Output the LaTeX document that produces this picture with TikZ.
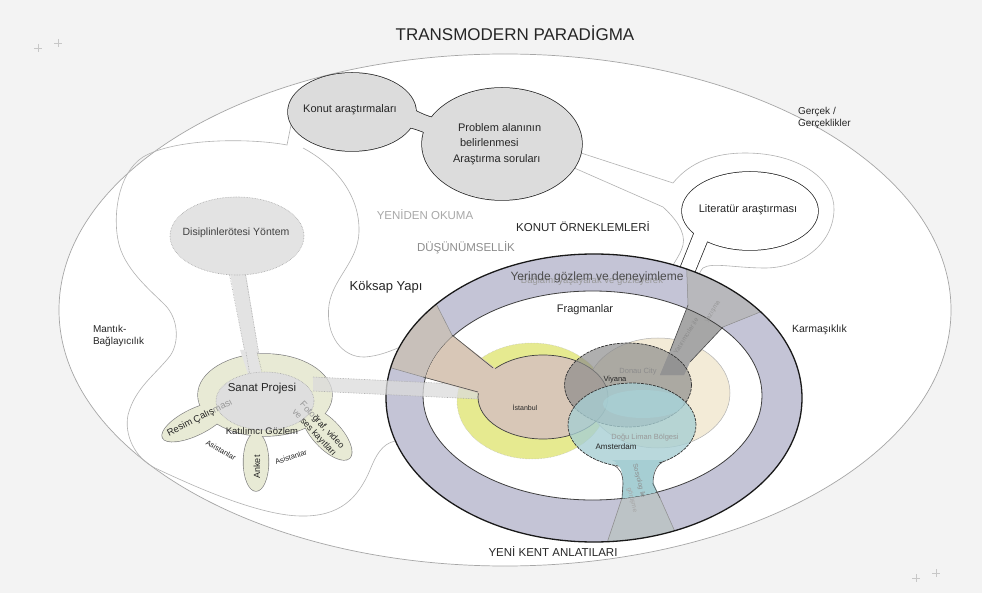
\documentclass[tikz,border=0pt]{standalone}
\usepackage{fontspec}
\setmainfont{Liberation Sans}
\definecolor{bgc}{HTML}{F3F3F3}
\definecolor{bub}{HTML}{DCDCDC}
\definecolor{disc}{HTML}{E3E3E3}
\definecolor{sanatc}{HTML}{E8EAD5}
\definecolor{sanin}{HTML}{DEDEDE}
\definecolor{ringc}{HTML}{C4C4D6}
\definecolor{tanc}{HTML}{D8C7B7}
\definecolor{tanring}{HTML}{C8C0BA}
\definecolor{grayring}{HTML}{B8B8BC}
\definecolor{tealring}{HTML}{BCC3C6}
\definecolor{graytail}{HTML}{A6A6A6}
\definecolor{tealc}{HTML}{A6CED3}
\definecolor{yelc}{HTML}{E6EA90}
\definecolor{beigec}{HTML}{F3EBD7}
\definecolor{vienc}{HTML}{8A8A8A}
\definecolor{lgtxt}{HTML}{A8A8A8}
\definecolor{hlc}{HTML}{A9D3D8}
\newcommand{\fsz}[2]{\fontsize{#1}{#2}\selectfont}
\newcommand{\ringout}{(594,398) ellipse [x radius=208pt, y radius=144pt]}
\newcommand{\ringin}{(592.5,395.5) ellipse [x radius=169.5pt, y radius=104.5pt]}
\newcommand{\tailA}{(424,280) -- (452,335) -- (497,370) -- (500,396) -- (478,393) -- (423,377) -- (360,359) -- cycle}
\newcommand{\tailB}{(686,250) -- (688,305) -- (670,351) -- (660,375) -- (684,375) -- (690,362) -- (723,327) -- (800,296) -- cycle}
\newcommand{\tailC}{(612,460) .. controls (620,463) and (623,470) .. (623,482) -- (622,498) -- (604,552) -- (684,552) -- (660,498) -- (653,482) .. controls (653,470) and (656,463) .. (664,460) -- cycle}
\newcommand{\neckpath}{(410,108) .. controls (418,112) and (425,116) .. (434,118) -- (428,134) .. controls (420,130) and (412,128) .. (405,126) -- cycle}
\newcommand{\littail}{(697,226) -- (711,232) -- (693,276) -- (677,276) -- cycle}
\begin{document}
\begin{tikzpicture}[x=1pt,y=-1pt,
  txt/.style={inner sep=0pt, outer sep=0pt, text=black!85},
  rline/.style={draw=black!30, line width=0.6pt},
  dotl/.style={draw=black!35, line width=0.6pt, densely dotted},
  tedge/.style={draw=black!70, line width=0.6pt},
  sedge/.style={draw=black!45, line width=0.5pt},
  cross/.style={draw=black!22, line width=0.5pt}]
\useasboundingbox (0,0) rectangle (982,593);
\fill[bgc] (0,0) rectangle (982,593);
\foreach \cx/\cy in {38/48, 58/43, 916/578, 936/573}
  \draw[cross] (\cx-4,\cy) -- (\cx+4,\cy) (\cx,\cy-4) -- (\cx,\cy+4);
% outer world
\draw[fill=white, draw=black!35, line width=0.7pt] (505,310) ellipse [x radius=446pt, y radius=256pt];
% thin region outlines
\draw[rline] (291,125) -- (287,145) .. controls (250,138) and (175,138) .. (143,157)
  .. controls (118,173) and (113,215) .. (118,240) .. controls (123,268) and (150,290) .. (165,305)
  .. controls (178,318) and (180,342) .. (170,356) .. controls (155,375) and (135,388) .. (128,415)
  .. controls (124,435) and (135,458) .. (155,468) .. controls (185,482) and (255,515) .. (300,516)
  .. controls (340,517) and (358,498) .. (370,470) .. controls (376,455) and (382,444) .. (395,441);
\draw[rline] (303,148) .. controls (335,165) and (360,195) .. (359,232) .. controls (358,262) and (333,278) .. (329,305)
  .. controls (325,335) and (342,358) .. (365,357) .. controls (378,356) and (388,352) .. (398,348);
\draw[rline] (578,152) -- (673,183) .. controls (690,162) and (715,153) .. (745,153)
  .. controls (800,153) and (835,180) .. (834,210) .. controls (833,245) and (800,268) .. (765,268)
  .. controls (735,268) and (712,262) .. (703,268) .. controls (698,273) and (697,282) .. (697,292);
\draw[rline] (572,167) -- (663,207) .. controls (675,218) and (686,232) .. (683,245)
  .. controls (680,257) and (671,265) .. (667,278);
% Konut + Problem bubbles
\draw[line width=1.5pt, draw=black!85] (352,112) ellipse [x radius=64pt, y radius=39pt];
\draw[line width=1.5pt, draw=black!85] (502,144) ellipse [x radius=80pt, y radius=56pt];
\draw[line width=1.5pt, draw=black!85] \neckpath;
\fill[bub] (352,112) ellipse [x radius=64pt, y radius=39pt];
\fill[bub] (502,144) ellipse [x radius=80pt, y radius=56pt];
\fill[bub] \neckpath;
% Literatur bubble
\draw[line width=1.5pt, draw=black!85] (750,211) ellipse [x radius=68pt, y radius=39pt];
\draw[line width=1.5pt, draw=black!85] (697,226) -- (677,276) (711,232) -- (693,276);
\fill[white] (750,211) ellipse [x radius=68pt, y radius=39pt];
\fill[white] \littail;
% Disiplinlerotesi bubble and band
\fill[disc] (229,268) -- (245,268) -- (263,380) -- (250,380) -- cycle;
\draw[dotl] (229,272) -- (250,378) (245,272) -- (263,378);
\draw[dotl, fill=disc] (237,236) ellipse [x radius=67pt, y radius=39pt];
% Sanat blob
\begin{scope}[line width=1.3pt, draw=black!50]
\draw (265,395) ellipse [x radius=67pt, y radius=41pt];
\draw (195,422) ellipse [x radius=36pt, y radius=13pt, rotate=26];
\draw (256,462) ellipse [x radius=12.5pt, y radius=29pt];
\draw (327,434) ellipse [x radius=33pt, y radius=14pt, rotate=-47];
\end{scope}
\fill[sanatc] (265,395) ellipse [x radius=67pt, y radius=41pt];
\fill[sanatc] (195,422) ellipse [x radius=36pt, y radius=13pt, rotate=26];
\fill[sanatc] (256,462) ellipse [x radius=12.5pt, y radius=29pt];
\fill[sanatc] (327,434) ellipse [x radius=33pt, y radius=14pt, rotate=-47];
\fill[disc] (240,350) -- (256,350) -- (263,380) -- (250,380) -- cycle;
\draw[dotl] (246,352) -- (250,376) (257,352) -- (263,376);
\draw[dotl, fill=sanin] (265,401) ellipse [x radius=49pt, y radius=29pt];
% ring
\fill[ringc, even odd rule] \ringout \ringin;
% central regions (back)
\draw[fill=yelc, draw=black!25, densely dotted, line width=0.5pt] (532,401) ellipse [x radius=75pt, y radius=58pt];
\draw[fill=beigec, draw=black!30, line width=0.5pt] (658,393) ellipse [x radius=72pt, y radius=55pt];
% tails
\begin{scope}
\clip \ringout;
\fill[tanring] \tailA; \fill[grayring] \tailB; \fill[tealring] \tailC;
\draw[sedge] (424,280) -- (452,335) (360,359) -- (423,377) (686,250) -- (688,305) (800,296) -- (723,327)
  (604,552) -- (622,498) (684,552) -- (660,498);
\end{scope}
\begin{scope}
\clip \ringin;
\fill[tanc] \tailA; \fill[graytail] \tailB; \fill[tealc] \tailC;
\end{scope}
% ring strokes
\draw[black!90, line width=1.3pt] \ringout;
\draw[black!75, line width=0.8pt] \ringin;
% band Sanat -> Istanbul
\fill[black!14, fill opacity=0.75] (313,377) -- (478,385) -- (478,399) -- (313,391) -- cycle;
\draw[dotl] (313,377) -- (478,385) (313,391) -- (478,399);
% Istanbul
\draw[fill=tanc, draw=black!75, line width=0.7pt] (543,397) ellipse [x radius=65pt, y radius=42pt];
\begin{scope}
\clip \ringin;
\fill[tanc] \tailA;
\end{scope}
\draw[tedge] (452,335) -- (493,368) (423,377) -- (478,392);
% Viyana, Amsterdam
\draw[fill=vienc, fill opacity=0.68, draw=black!80, dash pattern=on 3pt off 1pt, line width=0.7pt]
  (628,385) ellipse [x radius=63.5pt, y radius=42pt];
\draw[fill=tealc, fill opacity=0.78, draw=black!80, dash pattern=on 3pt off 1pt, line width=0.7pt]
  (632,425) ellipse [x radius=64pt, y radius=42pt];
\fill[hlc, fill opacity=0.6] (643,404) ellipse [x radius=40pt, y radius=14pt];
\begin{scope}
\clip \ringin;
\fill[tealc] (614,463) .. controls (620,465) and (623,470) .. (623,482) -- (622,510) -- (660,510) -- (653,482) .. controls (653,470) and (656,465) .. (662,463) -- cycle;
\end{scope}
\draw[tedge] (688,305) -- (670,351) (723,327) -- (690,362);
\draw[tedge] (613,465) .. controls (620,468) and (623,474) .. (623,484) -- (622,498);
\draw[tedge] (664,461) .. controls (657,465) and (653,472) .. (653,484) -- (660,498);
% ---------- texts ----------
\node[txt, font=\fsz{17}{20}] (title) at (515,33) {TRANSMODERN PARADİGMA};
\node[txt, font=\fsz{11}{13}] (konut) at (350,110) {Konut araştırmaları};
\node[txt, font=\fsz{11}{13}, anchor=west] (prob1) at (458,128) {Problem alanının};
\node[txt, font=\fsz{11}{13}, anchor=west] (prob2) at (460,143) {belirlenmesi};
\node[txt, font=\fsz{11}{13}, anchor=west] (prob3) at (453,160) {Araştırma soruları};
\node[txt, font=\fsz{11}{13}] (lit) at (748,210) {Literatür araştırması};
\node[txt, font=\fsz{10}{12}, anchor=west, align=left] (gercek) at (798,118) {Gerçek /\\Gerçeklikler};
\node[txt, font=\fsz{11.5}{13}, text=lgtxt] (yeniden) at (425,215) {YENİDEN OKUMA};
\node[txt, font=\fsz{11.5}{13}] (ornek) at (583,227) {KONUT ÖRNEKLEMLERİ};
\node[txt, font=\fsz{11.5}{13}, text=black!45] (dusun) at (466,248) {DÜŞÜNÜMSELLİK};
\node[txt, font=\fsz{13}{15}] (koksap) at (386,287) {Köksap Yapı};
\node[txt, font=\fsz{10.5}{12}, text=black!75] (disip) at (236,233) {Disiplinlerötesi Yöntem};
\node[txt, font=\fsz{10}{12.4}, anchor=west, align=left] (mantik) at (93,336) {Mantık-\\Bağlayıcılık};
\node[txt, font=\fsz{10.5}{12}, anchor=west] (karma) at (792,330) {Karmaşıklık};
\node[txt, font=\fsz{9.5}{11}, text=black!40] (baglam) at (592,281) {Bağlamı yaşayarak ve gözleyerek};
\node[txt, font=\fsz{12}{14}, text=black!70] (yerinde) at (597,277) {Yerinde gözlem ve deneyimleme};
\node[txt, font=\fsz{11}{13}] (frag) at (585,310) {Fragmanlar};
\node[txt, font=\fsz{11.5}{13}] (sanat) at (262,389) {Sanat Projesi};
\node[txt, font=\fsz{9.5}{11}] (katil) at (262,431) {Katılımcı Gözlem};
\node[txt, font=\fsz{9.5}{11}, rotate=27] (resim) at (200,418) {Resim Çalış\textcolor{black!40}{ması}};
\node[txt, font=\fsz{7.5}{9}, rotate=-30] (asis1) at (221,450) {Asistanlar};
\node[txt, font=\fsz{9}{11}, rotate=90] (anket) at (257,467) {Anket};
\node[txt, font=\fsz{7.5}{9}, rotate=18] (asis2) at (291,457) {Asistanlar};
\node[txt, font=\fsz{9}{10.8}, rotate=-47, align=center] (foto) at (318,429) {\textcolor{black!40}{Foto}ğraf, video\\\textcolor{black!40}{ve} ses kayıtları};
\node[txt, font=\fsz{7}{8}] (ist) at (525,407) {İstanbul};
\node[txt, font=\fsz{7.5}{9}, text=black!45] (donau) at (638,372) {Donau City};
\node[txt, font=\fsz{7.5}{9}] (viyana) at (615,380) {Viyana};
\node[txt, font=\fsz{7.5}{9}, text=black!40] (dogu) at (645,438) {Doğu Liman Bölgesi};
\node[txt, font=\fsz{8}{9}] (amst) at (616,447) {Amsterdam};
\node[txt, font=\fsz{6.5}{8}, text=black!45, rotate=58] (yatir) at (686,336) {Yatırımcılar ile};
\node[txt, font=\fsz{6.5}{8}, text=black!40, rotate=58] (yazis) at (713,312) {yazışma};
\node[txt, font=\fsz{6.5}{8}, text=black!45, rotate=-76] (sosyo) at (639,481) {Sosyolog ile};
\node[txt, font=\fsz{6.5}{8}, text=black!35, rotate=-76] (gorus) at (632,500) {görüşme};
\node[txt, font=\fsz{11.5}{13}] (yenikent) at (553,552) {YENİ KENT ANLATILARI};
\end{tikzpicture}
\end{document}
